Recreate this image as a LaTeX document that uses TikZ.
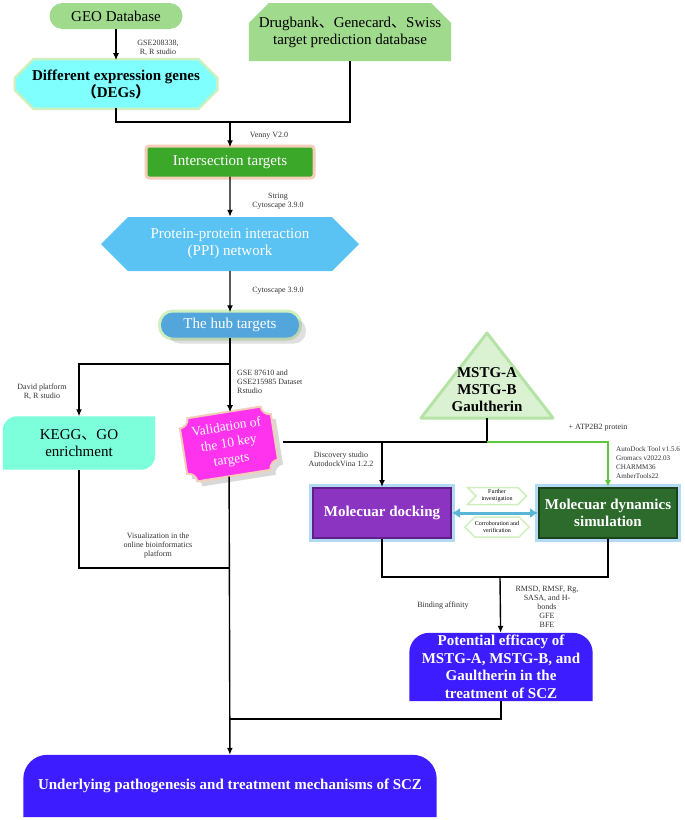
\documentclass[tikz,border=0pt]{standalone}
\usepackage{fontspec}
\setmainfont{Liberation Serif}
\newfontfamily\cjk{Noto Sans CJK SC}
\usepackage{tikz}
\usetikzlibrary{arrows.meta,positioning,calc,backgrounds,shapes.misc,shapes.symbols,shadows}
\definecolor{leaf}{HTML}{A0DA8C}
\definecolor{aqua}{HTML}{80FFFF}
\definecolor{grass}{HTML}{3BA82A}
\definecolor{sky}{HTML}{5BC3F3}
\definecolor{hubblue}{HTML}{52A6DB}
\definecolor{mint}{HTML}{7DFFDB}
\definecolor{magenta}{HTML}{FF33EE}
\definecolor{paleleaf}{HTML}{DAF2D2}
\definecolor{edgeleaf}{HTML}{B5E3A6}
\definecolor{lime}{HTML}{5CC83C}
\definecolor{violet}{HTML}{8C34C2}
\definecolor{violetdark}{HTML}{5E1F8A}
\definecolor{forest}{HTML}{2D6B2D}
\definecolor{forestdark}{HTML}{1C421C}
\definecolor{ultra}{HTML}{3D1CFF}
\definecolor{steel}{HTML}{5AB5D6}
\definecolor{glowblue}{HTML}{B3DAF5}
\definecolor{gloworange}{HTML}{F5CDB8}
\definecolor{glowgreen}{HTML}{CFF0BE}
\tikzset{base/.style={inner sep=0pt,align=center,font=\fontsize{15}{17}\selectfont},
geobox/.style={base,fill=leaf,rounded corners=13pt,minimum width=133pt,minimum height=26pt},
dbbox/.style={base,chamfered rectangle,chamfered rectangle corners={north west,north east},chamfered rectangle xsep=10pt,chamfered rectangle ysep=10pt,fill=leaf,minimum width=198pt,minimum height=58pt},
degbox/.style={base,chamfered rectangle,chamfered rectangle xsep=9pt,chamfered rectangle ysep=9pt,fill=aqua,preaction={draw=glowgreen,line width=5pt},minimum width=200pt,minimum height=40pt,font=\fontsize{15}{17}\selectfont\bfseries},
interbox/.style={base,fill=grass,rounded corners=2pt,preaction={draw=gloworange,line width=6pt},text=white,minimum width=165pt,minimum height=29pt},
ppibox/.style={base,signal,signal to=west and east,fill=sky,text=white,minimum width=258pt,minimum height=54pt},
hubbox/.style={base,fill=hubblue,rounded corners=12pt,preaction={draw=glowgreen,line width=6pt},drop shadow={shadow xshift=7pt,shadow yshift=-6pt,opacity=.25},text=white,minimum width=138pt,minimum height=25pt},
keggbox/.style={base,minimum width=152pt,minimum height=53pt},
valbox/.style={base,text=white,minimum width=92pt,minimum height=64pt,font=\fontsize{13.5}{16.5}\selectfont},
valshape/.style={fill=magenta,draw=gloworange,line width=2pt,drop shadow={shadow xshift=5pt,shadow yshift=-5pt,opacity=.3}},
tri/.style={fill=paleleaf,draw=edgeleaf,line width=3pt,line join=round},
mbox/.style={base,font=\fontsize{15}{17}\selectfont\bfseries},
dockbox/.style={base,fill=violet,draw=violetdark,line width=2pt,preaction={draw=glowblue,line width=8pt},text=white,minimum width=138pt,minimum height=50pt,font=\fontsize{15}{17}\selectfont\bfseries},
mdbox/.style={dockbox,fill=forest,draw=forestdark},
chev/.style={base,signal,signal from=west,signal to=east,fill=white,draw=glowgreen,line width=1.5pt,minimum width=59pt,minimum height=17pt,font=\fontsize{6}{7}\selectfont},
hexs/.style={chev,signal from=nowhere,signal to=west and east,minimum width=61pt,minimum height=20pt},
potbox/.style={base,text=white,minimum width=183pt,minimum height=68pt,font=\fontsize{15}{17.5}\selectfont\bfseries},
undbox/.style={potbox,minimum width=413pt,minimum height=62pt},
lbl/.style={inner sep=0pt,align=center,text=black!80,font=\fontsize{8}{9}\selectfont},
ln/.style={line width=1.4pt,draw=black},
arr/.style={ln,-{Latex[length=7pt,width=6pt]}},
garr/.style={arr,draw=lime},
dbl/.style={{Latex[length=8pt,width=10pt]}-{Latex[length=8pt,width=10pt]},line width=3pt,draw=steel}}
\begin{document}
\begin{tikzpicture}[x=1pt,y=-1pt]
\useasboundingbox (0,0) rectangle (685,820);
\node[geobox] (geo) at (116,16) {GEO Database};
\node[dbbox] (drug) at (350,32) {Drugbank{\cjk 、}Genecard{\cjk 、}Swiss\\target prediction database};
\node[degbox] (degs) at (116,84) {Different expression genes\\{\cjk （}DEGs{\cjk ）}};
\node[interbox] (inter) at (230,162) {Intersection targets};
\node[ppibox] (ppi) at (230,244) {Protein-protein interaction\\(PPI) network};
\node[hubbox] (hub) at (230,325) {The hub targets};
\node[keggbox] (kegg) at (79,443) {KEGG{\cjk 、}GO\\enrichment};
\node[valbox,rotate=9] (valid) at (229,444) {Validation of\\the 10 key\\targets};
\node[mbox] (mstg) at (487,390) {MSTG-A\\MSTG-B\\Gaultherin};
\node[dockbox] (dock) at (382,513) {Molecuar docking};
\node[mdbox] (md) at (608,513) {Molecuar dynamics\\simulation};
\node[chev] (further) at (497,496) {Further\\investigation};
\node[hexs] (corrob) at (497,527) {Corroboration and\\verification};
\node[potbox] (pot) at (501,667) {Potential efficacy of\\MSTG-A, MSTG-B, and\\Gaultherin in the\\treatment of SCZ};
\node[undbox] (under) at (230,786) {Underlying pathogenesis and treatment mechanisms of SCZ};
\node[lbl] (lgse) at (158,48) {GSE208338,\\R, R studio};
\node[lbl] (lvenny) at (269,136) {Venny V2.0};
\node[lbl] (lstring) at (278,201) {String\\Cytoscape 3.9.0};
\node[lbl] (lcyto) at (278,291) {Cytoscape 3.9.0};
\node[lbl] (ldavid) at (42,392) {David platform\\R, R studio};
\node[lbl,align=left,anchor=west] (lgse2) at (237,382) {GSE 87610 and\\GSE215985 Dataset\\Rstudio};
\node[lbl] (lvis) at (158,546) {Visualization in the\\online bioinformatics\\platform};
\node[lbl] (latp) at (598,428) {+ ATP2B2 protein};
\node[lbl] (ldisc) at (341,459) {Discovery studio\\AutodockVina 1.2.2};
\node[lbl,align=left,anchor=west,font=\fontsize{7.1}{9}\selectfont] (lauto) at (616,463) {AutoDock Tool v1.5.6\\Gromacs v2022.03\\CHARMM36\\AmberTools22};
\node[lbl] (lbind) at (443,606) {Binding affinity};
\node[lbl] (lrmsd) at (547,607) {RMSD, RMSF, Rg,\\SASA, and H-\\bonds\\GFE\\BFE};
\coordinate (j1) at (230,122);\coordinate (j2) at (230,364);\coordinate (j3) at (230,568);\coordinate (j4) at (230,719);
\coordinate (j5) at (487,442);\coordinate (j6) at (283,442);\coordinate (j7) at (382,442);\coordinate (j8) at (500,577);
\coordinate (mtop) at (487,333);\coordinate (mbase) at (487,418);
\begin{pgfonlayer}{background}
\fill[white] (0,0) rectangle (685,820);
\filldraw[tri] (mtop) -- (553,418) -- (421,418) -- cycle;
\begin{scope}[shift={(valid.center)},rotate=9]
\filldraw[valshape] (-37pt,32pt) -- (37pt,32pt) arc[start angle=180,end angle=270,radius=9pt] -- (46pt,-23pt) arc[start angle=90,end angle=180,radius=9pt] -- (-37pt,-32pt) arc[start angle=0,end angle=90,radius=9pt] -- (-46pt,23pt) arc[start angle=270,end angle=360,radius=9pt] -- cycle;
\end{scope}
\fill[mint] (kegg.north east) -- ($(kegg.south east)+(0,-14)$) arc[start angle=0,end angle=-90,radius=14pt] -- (kegg.south west) -- ($(kegg.north west)+(0,14)$) arc[start angle=180,end angle=90,radius=14pt] -- cycle;
\fill[ultra] (pot.south west) -- ($(pot.north west)+(0,20)$) arc[start angle=180,end angle=90,radius=20pt] -- ($(pot.north east)+(-20,0)$) arc[start angle=90,end angle=0,radius=20pt] -- (pot.south east) -- cycle;
\fill[ultra] (under.south west) -- ($(under.north west)+(0,24)$) arc[start angle=180,end angle=90,radius=24pt] -- ($(under.north east)+(-24,0)$) arc[start angle=90,end angle=0,radius=24pt] -- (under.south east) -- cycle;
\end{pgfonlayer}
\draw[arr] (geo) -- (degs);\draw[ln] (degs) |- (j1) -| (drug);\draw[arr] (j1) -- (inter);
\draw[arr] (inter) -- (ppi);\draw[arr] (ppi) -- (hub);
\draw[ln] (hub) -- (j2);\draw[arr] (j2) -| (kegg);\draw[arr] (j2) -- (j2 |- valid.north);
\draw[ln] (kegg) |- (j3);\draw[arr] (valid) -- (under);\draw[ln] (pot) |- (j4);
\draw[ln] (mbase) -- (j5) -- (j6);\draw[arr] (j7) -- (dock);\draw[garr] (j5) -| (md);
\draw[dbl] (dock) -- (md);
\draw[ln] (dock) |- (j8) -| (md);\draw[arr] (j8) -- (pot);
\end{tikzpicture}
\end{document}
